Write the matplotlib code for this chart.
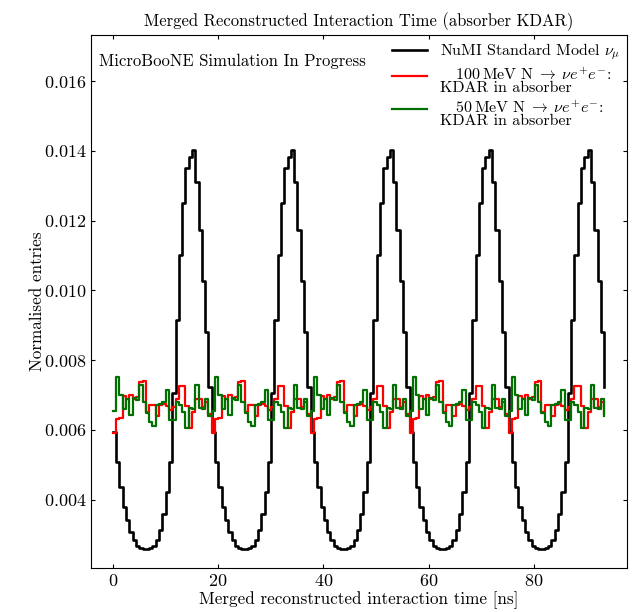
import matplotlib
matplotlib.use("Agg")
import matplotlib.pyplot as plt
from matplotlib.legend_handler import HandlerLine2D
import numpy as np

plt.rcParams['font.family'] = 'serif'
plt.rcParams['font.serif'] = ['cmr10']
plt.rcParams['mathtext.fontset'] = 'cm'
plt.rcParams['axes.formatter.use_mathtext'] = True

# left bin edges, 150 bins between 0 and 94 ns
time_ns = np.linspace(0, 94, 151)[:-1]

# NuMI SM nu_mu, normalised (5 bunches)
numi_sm = [
    0.00595, 0.00509, 0.00437, 0.00380, 0.00342, 0.00308, 0.00284, 0.00267, 0.00261, 0.00258,
    0.00258, 0.00262, 0.00268, 0.00283, 0.00312, 0.00358, 0.00423, 0.00509, 0.00705, 0.00915,
    0.01102, 0.01250, 0.01351, 0.01382, 0.01403, 0.01312, 0.01174, 0.01026, 0.00882, 0.00724,
    0.00595, 0.00509, 0.00437, 0.00380, 0.00342, 0.00308, 0.00284, 0.00267, 0.00261, 0.00258,
    0.00258, 0.00262, 0.00268, 0.00283, 0.00312, 0.00358, 0.00423, 0.00509, 0.00705, 0.00915,
    0.01102, 0.01250, 0.01351, 0.01382, 0.01403, 0.01312, 0.01174, 0.01026, 0.00882, 0.00724,
    0.00595, 0.00509, 0.00437, 0.00380, 0.00342, 0.00308, 0.00284, 0.00267, 0.00261, 0.00258,
    0.00258, 0.00262, 0.00268, 0.00283, 0.00312, 0.00358, 0.00423, 0.00509, 0.00705, 0.00915,
    0.01102, 0.01250, 0.01351, 0.01382, 0.01403, 0.01312, 0.01174, 0.01026, 0.00882, 0.00724,
    0.00595, 0.00509, 0.00437, 0.00380, 0.00342, 0.00308, 0.00284, 0.00267, 0.00261, 0.00258,
    0.00258, 0.00262, 0.00268, 0.00283, 0.00312, 0.00358, 0.00423, 0.00509, 0.00705, 0.00915,
    0.01102, 0.01250, 0.01351, 0.01382, 0.01403, 0.01312, 0.01174, 0.01026, 0.00882, 0.00724,
    0.00595, 0.00509, 0.00437, 0.00380, 0.00342, 0.00308, 0.00284, 0.00267, 0.00261, 0.00258,
    0.00258, 0.00262, 0.00268, 0.00283, 0.00312, 0.00358, 0.00423, 0.00509, 0.00705, 0.00915,
    0.01102, 0.01250, 0.01351, 0.01382, 0.01403, 0.01312, 0.01174, 0.01026, 0.00882, 0.00724,
]

# 100 MeV HNL, KDAR in absorber
hnl_100 = [
    0.00592, 0.00630, 0.00635, 0.00696, 0.00688, 0.00700, 0.00688, 0.00693, 0.00738, 0.00740,
    0.00650, 0.00672, 0.00670, 0.00640, 0.00672, 0.00675, 0.00668, 0.00658, 0.00665, 0.00690,
    0.00725, 0.00725, 0.00668, 0.00606, 0.00652, 0.00690, 0.00690, 0.00665, 0.00680, 0.00645,
    0.00592, 0.00630, 0.00635, 0.00696, 0.00688, 0.00700, 0.00688, 0.00693, 0.00738, 0.00740,
    0.00650, 0.00672, 0.00670, 0.00640, 0.00672, 0.00675, 0.00668, 0.00658, 0.00665, 0.00690,
    0.00725, 0.00725, 0.00668, 0.00606, 0.00652, 0.00690, 0.00690, 0.00665, 0.00680, 0.00645,
    0.00592, 0.00630, 0.00635, 0.00696, 0.00688, 0.00700, 0.00688, 0.00693, 0.00738, 0.00740,
    0.00650, 0.00672, 0.00670, 0.00640, 0.00672, 0.00675, 0.00668, 0.00658, 0.00665, 0.00690,
    0.00725, 0.00725, 0.00668, 0.00606, 0.00652, 0.00690, 0.00690, 0.00665, 0.00680, 0.00645,
    0.00592, 0.00630, 0.00635, 0.00696, 0.00688, 0.00700, 0.00688, 0.00693, 0.00738, 0.00740,
    0.00650, 0.00672, 0.00670, 0.00640, 0.00672, 0.00675, 0.00668, 0.00658, 0.00665, 0.00690,
    0.00725, 0.00725, 0.00668, 0.00606, 0.00652, 0.00690, 0.00690, 0.00665, 0.00680, 0.00645,
    0.00592, 0.00630, 0.00635, 0.00696, 0.00688, 0.00700, 0.00688, 0.00693, 0.00738, 0.00740,
    0.00650, 0.00672, 0.00670, 0.00640, 0.00672, 0.00675, 0.00668, 0.00658, 0.00665, 0.00690,
    0.00725, 0.00725, 0.00668, 0.00606, 0.00652, 0.00690, 0.00690, 0.00665, 0.00680, 0.00645,
]

# 50 MeV HNL, KDAR in absorber
hnl_50 = [
    0.00653, 0.00753, 0.00700, 0.00660, 0.00690, 0.00643, 0.00692, 0.00685, 0.00729, 0.00680,
    0.00649, 0.00624, 0.00610, 0.00672, 0.00675, 0.00680, 0.00715, 0.00629, 0.00629, 0.00681,
    0.00672, 0.00650, 0.00606, 0.00664, 0.00660, 0.00730, 0.00664, 0.00660, 0.00690, 0.00640,
    0.00653, 0.00753, 0.00700, 0.00660, 0.00690, 0.00643, 0.00692, 0.00685, 0.00729, 0.00680,
    0.00649, 0.00624, 0.00610, 0.00672, 0.00675, 0.00680, 0.00715, 0.00629, 0.00629, 0.00681,
    0.00672, 0.00650, 0.00606, 0.00664, 0.00660, 0.00730, 0.00664, 0.00660, 0.00690, 0.00640,
    0.00653, 0.00753, 0.00700, 0.00660, 0.00690, 0.00643, 0.00692, 0.00685, 0.00729, 0.00680,
    0.00649, 0.00624, 0.00610, 0.00672, 0.00675, 0.00680, 0.00715, 0.00629, 0.00629, 0.00681,
    0.00672, 0.00650, 0.00606, 0.00664, 0.00660, 0.00730, 0.00664, 0.00660, 0.00690, 0.00640,
    0.00653, 0.00753, 0.00700, 0.00660, 0.00690, 0.00643, 0.00692, 0.00685, 0.00729, 0.00680,
    0.00649, 0.00624, 0.00610, 0.00672, 0.00675, 0.00680, 0.00715, 0.00629, 0.00629, 0.00681,
    0.00672, 0.00650, 0.00606, 0.00664, 0.00660, 0.00730, 0.00664, 0.00660, 0.00690, 0.00640,
    0.00653, 0.00753, 0.00700, 0.00660, 0.00690, 0.00643, 0.00692, 0.00685, 0.00729, 0.00680,
    0.00649, 0.00624, 0.00610, 0.00672, 0.00675, 0.00680, 0.00715, 0.00629, 0.00629, 0.00681,
    0.00672, 0.00650, 0.00606, 0.00664, 0.00660, 0.00730, 0.00664, 0.00660, 0.00690, 0.00640,
]

labels = [r"NuMI Standard Model $\nu_\mu$",
          "   $100\\,\\mathrm{MeV\\ N}\\;\\rightarrow\\;\\nu e^{+}e^{-}$:\nKDAR in absorber",
          "   $50\\,\\mathrm{MeV\\ N}\\;\\rightarrow\\;\\nu e^{+}e^{-}$:\nKDAR in absorber"]


class RaisedLine(HandlerLine2D):
    # legend key drawn level with the first line of a two-line label
    def __init__(self, dy, **kw):
        super().__init__(**kw)
        self.dy = dy

    def create_artists(self, *args, **kw):
        arts = super().create_artists(*args, **kw)
        for a in arts:
            a.set_ydata(np.asarray(a.get_ydata()) + self.dy)
        return arts


fig, ax = plt.subplots(figsize=(6.41, 6.12), dpi=100)
fig.subplots_adjust(left=0.142, right=0.978, top=0.943, bottom=0.072)

l1, = ax.step(time_ns, numi_sm, where="post", color="black", lw=1.9, label=labels[0])
l2, = ax.step(time_ns, hnl_100, where="post", color="red", lw=1.6, label=labels[1])
l3, = ax.step(time_ns, hnl_50, where="post", color="#007000", lw=1.6, label=labels[2])

ax.set_xlim(-4.15, 97.7)
ax.set_ylim(0.00204, 0.01733)
ax.set_xticks([0, 20, 40, 60, 80])
ax.set_yticks([0.004, 0.006, 0.008, 0.010, 0.012, 0.014, 0.016])
ax.tick_params(direction="in", top=True, right=True, length=3, labelsize=13)

ax.set_title("Merged Reconstructed Interaction Time (absorber KDAR)", fontsize=12, pad=6)
ax.set_xlabel("Merged reconstructed interaction time [ns]", fontsize=12.3, labelpad=2)
ax.set_ylabel("Normalised entries", fontsize=12.3, labelpad=-1)
ax.text(0.015, 0.95, "MicroBooNE Simulation In Progress", transform=ax.transAxes,
        fontsize=12, va="center", ha="left")

leg = ax.legend(loc="upper right", frameon=False, fontsize=11.5, handlelength=2.2,
                handletextpad=0.8, borderaxespad=0.02, labelspacing=0.25,
                handler_map={l2: RaisedLine(3.5), l3: RaisedLine(3.5)})
for t in leg.get_texts():
    t.set_linespacing(0.9)

fig.savefig("out.png", dpi=100)
